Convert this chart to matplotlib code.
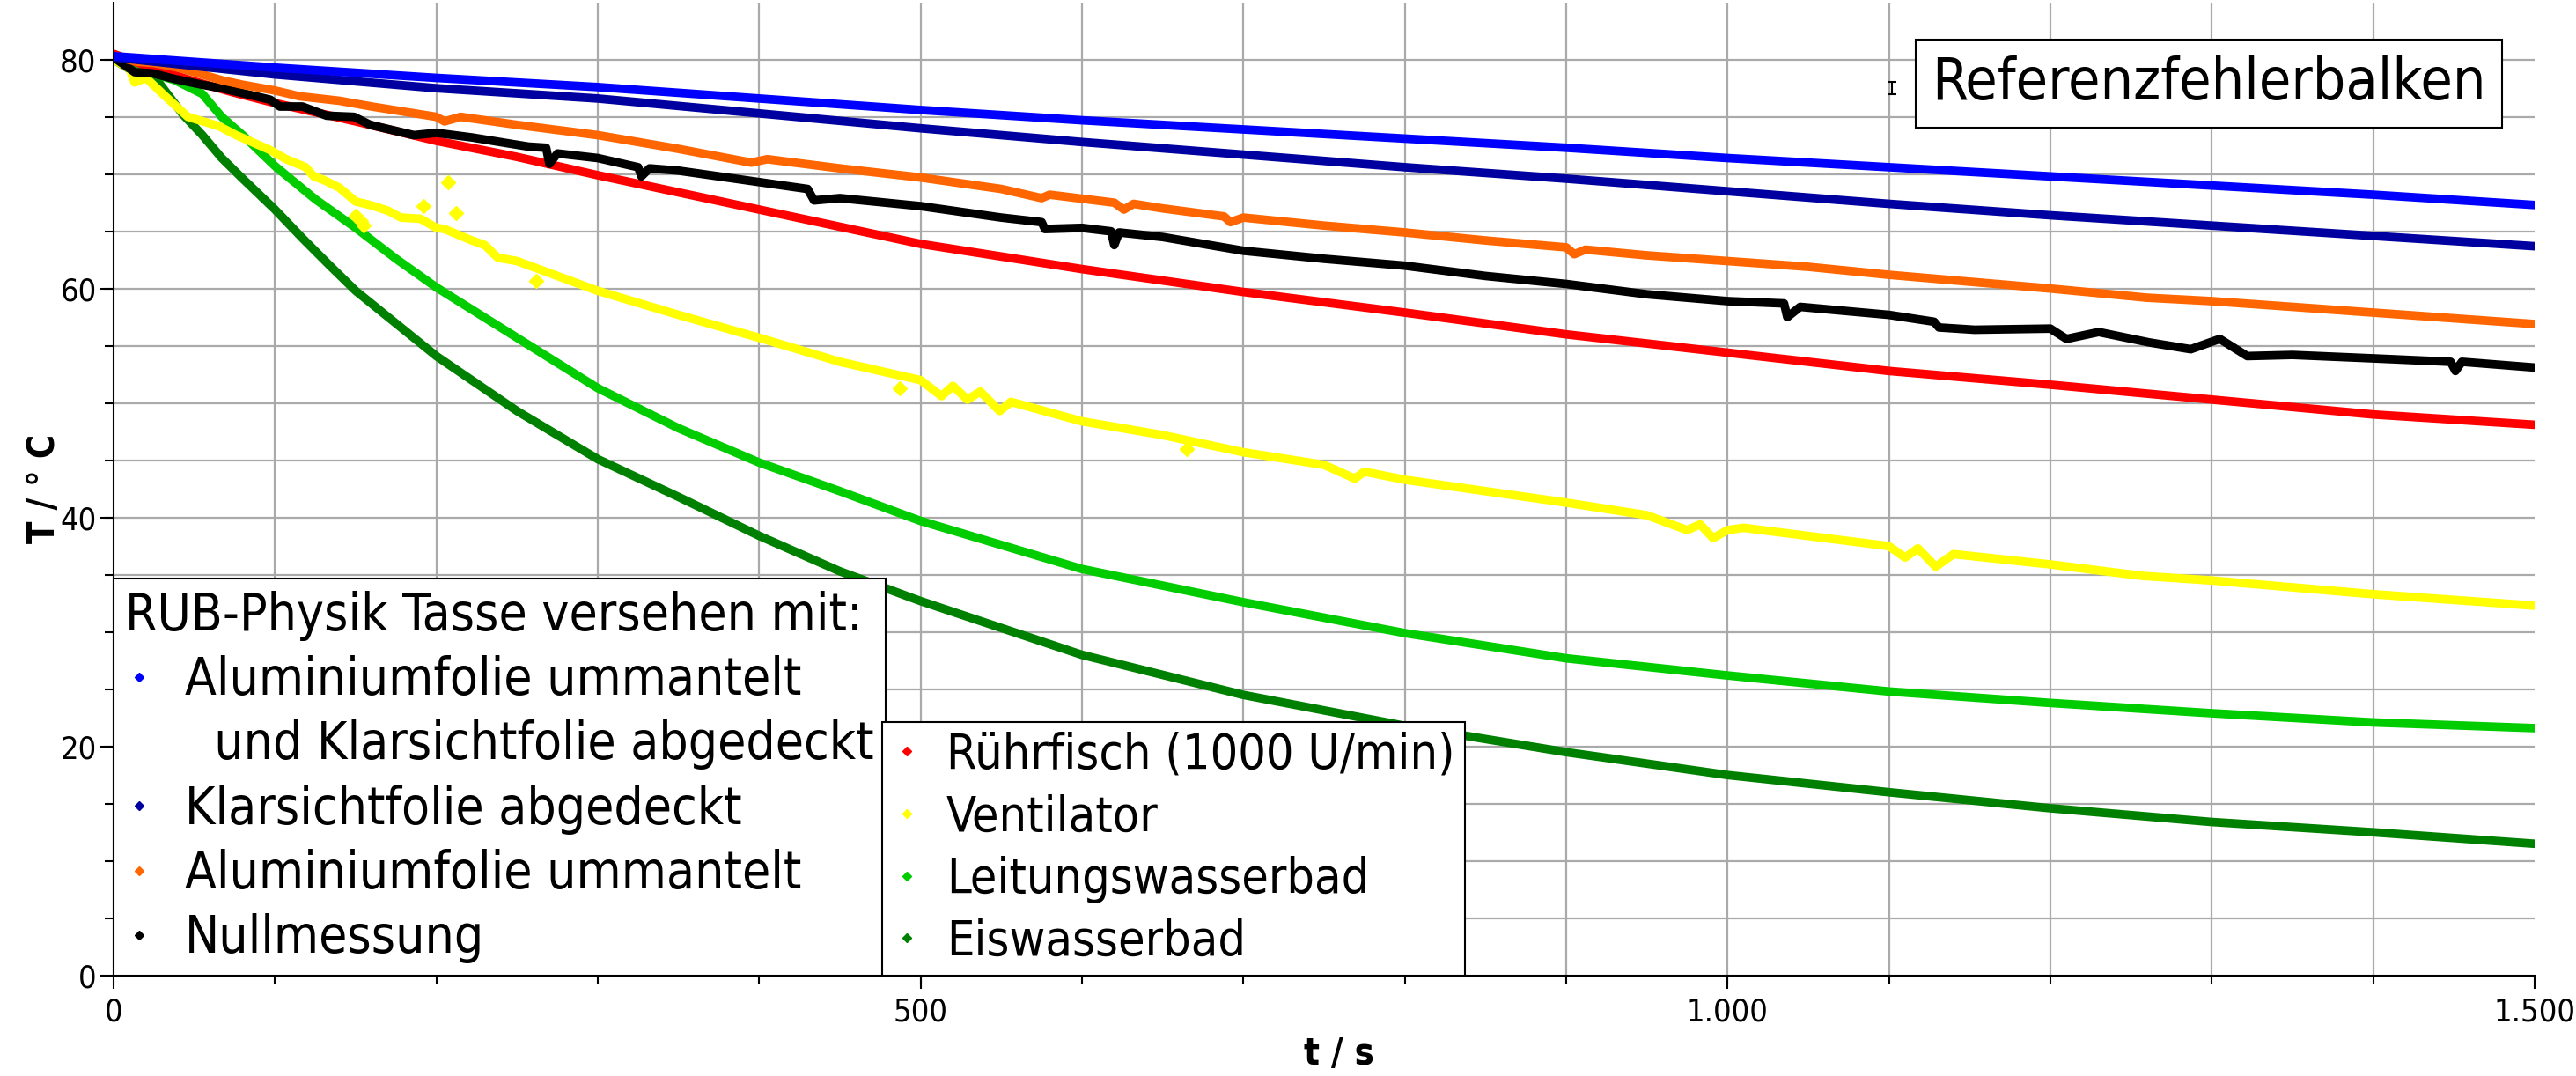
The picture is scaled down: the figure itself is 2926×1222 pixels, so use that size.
import matplotlib
matplotlib.use('Agg')
import matplotlib.pyplot as plt
from matplotlib.lines import Line2D

plt.rcParams['font.family'] = ['DejaVu Sans']
plt.rcParams['font.stretch'] = 'condensed'

t_alu_klar = [0, 100, 200, 300, 400, 500, 600, 700, 800, 900, 1000, 1100, 1200, 1300, 1400, 1500]
T_alu_klar = [80.3, 79.3, 78.4, 77.6, 76.6, 75.6, 74.7, 73.9, 73.1, 72.3, 71.4, 70.6, 69.8, 69.0, 68.2, 67.3]

t_klar = [0, 100, 200, 300, 400, 500, 600, 700, 800, 900, 1000, 1100, 1200, 1300, 1400, 1500]
T_klar = [80.2, 78.7, 77.5, 76.6, 75.3, 74.0, 72.8, 71.7, 70.6, 69.6, 68.5, 67.4, 66.4, 65.5, 64.6, 63.7]

t_alu = [0, 15, 25, 40, 55, 67, 80, 100, 115, 140, 160, 200, 205, 215, 250, 300, 350, 395, 405,
         450, 500, 550, 575, 580, 620, 626, 632, 650, 688, 692, 700, 750, 800, 850, 900, 905, 912,
         950, 1000, 1050, 1100, 1200, 1260, 1300, 1400, 1500]
T_alu = [80.3, 79.8, 79.7, 79.3, 78.7, 78.2, 77.8, 77.3, 76.8, 76.4, 75.9, 75.0, 74.6, 75.0, 74.3,
         73.4, 72.2, 71.0, 71.3, 70.5, 69.7, 68.7, 67.9, 68.2, 67.5, 66.9, 67.4, 67.0, 66.3, 65.8,
         66.2, 65.5, 64.9, 64.2, 63.6, 63.0, 63.4, 62.9, 62.4, 61.9, 61.2, 60.0, 59.2, 58.9, 57.9, 56.9]

t_null = [0, 13, 24, 38, 55, 67, 82, 97, 103, 117, 132, 149, 159, 186, 200, 222, 257, 268, 270,
          275, 300, 325, 327, 332, 350, 400, 430, 434, 450, 500, 550, 575, 577, 600, 618, 620, 623,
          650, 700, 750, 800, 850, 900, 950, 1000, 1035, 1037, 1045, 1100, 1128, 1131, 1153, 1200,
          1210, 1230, 1261, 1287, 1305, 1322, 1350, 1400, 1448, 1451, 1455, 1500]
T_null = [80.2, 78.9, 78.8, 78.3, 77.8, 77.5, 77.0, 76.5, 75.9, 75.9, 75.1, 75.0, 74.3, 73.4, 73.6,
          73.2, 72.4, 72.3, 70.9, 71.8, 71.4, 70.6, 69.8, 70.5, 70.3, 69.3, 68.7, 67.7, 67.9, 67.2,
          66.2, 65.8, 65.2, 65.3, 65.0, 63.8, 64.9, 64.5, 63.3, 62.6, 62.0, 61.1, 60.4, 59.5, 58.9,
          58.7, 57.5, 58.4, 57.7, 57.1, 56.6, 56.4, 56.5, 55.6, 56.2, 55.3, 54.7, 55.6, 54.1, 54.2,
          53.9, 53.6, 52.8, 53.6, 53.1]

t_ruehr = [0, 25, 50, 75, 100, 150, 200, 250, 300, 350, 400, 450, 500, 600, 700, 800, 900, 1000,
           1100, 1200, 1300, 1400, 1500]
T_ruehr = [80.5, 79.2, 78.1, 77.1, 76.2, 74.6, 72.9, 71.5, 69.9, 68.4, 66.9, 65.4, 63.9, 61.7, 59.7,
           57.9, 56.0, 54.4, 52.8, 51.6, 50.3, 49.0, 48.1]

t_vent = [0, 10, 13, 20, 32, 46, 65, 76, 97, 107, 119, 124, 130, 140, 150, 159, 170, 178, 190, 200,
          205, 222, 230, 238, 250, 300, 350, 400, 450, 500, 513, 520, 529, 537, 549, 556, 600, 650,
          700, 750, 769, 775, 800, 850, 900, 950, 975, 983, 991, 1000, 1010, 1100, 1110, 1118, 1129,
          1140, 1200, 1257, 1300, 1400, 1500]
T_vent = [80.0, 79.2, 78.0, 78.4, 76.8, 75.0, 74.2, 73.4, 72.1, 71.3, 70.6, 69.8, 69.5, 68.8, 67.6,
          67.3, 66.8, 66.2, 66.1, 65.3, 65.2, 64.2, 63.8, 62.7, 62.4, 59.8, 57.7, 55.7, 53.6, 52.0,
          50.6, 51.5, 50.3, 51.0, 49.3, 50.1, 48.4, 47.2, 45.7, 44.6, 43.4, 44.0, 43.3, 42.3, 41.3,
          40.2, 38.9, 39.4, 38.2, 38.9, 39.1, 37.5, 36.5, 37.3, 35.7, 36.8, 35.9, 34.9, 34.5, 33.3, 32.3]
t_vent_out = [150, 153, 155, 192, 207, 212, 262, 487, 665]
T_vent_out = [66.4, 65.9, 65.5, 67.2, 69.3, 66.6, 60.7, 51.3, 46.0]

t_leit = [0, 24, 38, 55, 67, 80, 100, 125, 150, 175, 200, 250, 300, 350, 400, 450, 500, 600, 700,
          800, 900, 1000, 1100, 1200, 1300, 1400, 1500]
T_leit = [80.0, 78.8, 78.2, 77.0, 75.0, 73.4, 70.7, 67.8, 65.3, 62.6, 60.1, 55.7, 51.3, 47.8, 44.8,
          42.3, 39.7, 35.5, 32.6, 29.9, 27.7, 26.2, 24.8, 23.8, 22.9, 22.1, 21.6]

t_eis = [0, 19, 28, 43, 55, 67, 80, 100, 117, 134, 150, 200, 250, 300, 350, 400, 450, 500, 600, 700,
         800, 900, 1000, 1100, 1200, 1300, 1400, 1500]
T_eis = [80.0, 78.4, 78.0, 75.2, 73.4, 71.4, 69.6, 66.9, 64.4, 62.0, 59.8, 54.1, 49.3, 45.1, 41.8,
         38.4, 35.3, 32.7, 28.0, 24.5, 21.8, 19.5, 17.5, 16.0, 14.6, 13.4, 12.5, 11.5]

ref_t, ref_T, ref_err = 1102, 77.5, 0.55

x_ticks = [0, 500, 1000, 1500]
x_tick_labels = ['0', '500', '1.000', '1.500']
y_ticks = [0, 20, 40, 60, 80]

c_alu_klar = '#0000ff'
c_klar = '#0000a0'
c_alu = '#ff6600'
c_null = '#000000'
c_ruehr = '#ff0000'
c_vent = '#ffff00'
c_leit = '#00cc00'
c_eis = '#008000'

fig = plt.figure(figsize=(29.26, 12.22), dpi=100)
ax = fig.add_axes([0.0441, 0.0935, 0.9398, 0.9043])

lw = 7
kw = dict(linewidth=lw, solid_joinstyle='round', solid_capstyle='round', zorder=3)
ax.plot(t_eis, T_eis, color=c_eis, **kw)
ax.plot(t_leit, T_leit, color=c_leit, **kw)
ax.plot(t_vent, T_vent, color=c_vent, **kw)
ax.plot(t_vent_out, T_vent_out, 'D', color=c_vent, markersize=8, zorder=3)
ax.plot(t_ruehr, T_ruehr, color=c_ruehr, **kw)
ax.plot(t_null, T_null, color=c_null, **kw)
ax.plot(t_alu, T_alu, color=c_alu, **kw)
ax.plot(t_klar, T_klar, color=c_klar, **kw)
ax.plot(t_alu_klar, T_alu_klar, color=c_alu_klar, **kw)

ax.errorbar([ref_t], [ref_T], yerr=[ref_err], fmt='none', ecolor='k', elinewidth=1.5,
            capsize=3.5, capthick=1.5, zorder=4)
ax.text(0.8655, 0.9165, 'Referenzfehlerbalken', transform=ax.transAxes, fontsize=47.5,
        ha='center', va='center', zorder=6,
        bbox=dict(boxstyle='square,pad=0.27', facecolor='white', edgecolor='black', linewidth=1.5))

ax.set_xlim(0, 1500)
ax.set_ylim(0, 85)
ax.set_xticks(x_ticks)
ax.set_xticklabels(x_tick_labels)
ax.set_yticks(y_ticks)
ax.set_xticks(range(100, 1500, 100), minor=True)
ax.set_yticks(range(5, 81, 5), minor=True)
ax.xaxis.remove_overlapping_locs = False
ax.yaxis.remove_overlapping_locs = False
ax.grid(which='minor', color='#aaaaaa', linewidth=1.6, zorder=0)
ax.grid(which='major', visible=False)
ax.set_axisbelow(True)

for s in ['top', 'right']:
    ax.spines[s].set_visible(False)
for s in ['left', 'bottom']:
    ax.spines[s].set_linewidth(1.5)
ax.tick_params(which='major', direction='out', length=11, width=1.5, labelsize=26, pad=3)
ax.tick_params(which='minor', direction='out', length=7, width=1.5)
ax.tick_params(axis='x', which='major', pad=7)

ax.set_xlabel('t / s', fontsize=30, fontweight='bold')
ax.set_ylabel('T / ° C', fontsize=30, fontweight='bold')
ax.xaxis.set_label_coords(0.506, -0.062)
ax.yaxis.set_label_coords(-0.021, 0.5)


def handle(c):
    return Line2D([], [], linestyle='none', marker='D', markersize=5, color=c)


h1 = [handle(c_alu_klar), Line2D([], [], linestyle='none'), handle(c_klar), handle(c_alu), handle(c_null)]
l1 = ['Aluminiumfolie ummantelt', '  und Klarsichtfolie abgedeckt', 'Klarsichtfolie abgedeckt',
      'Aluminiumfolie ummantelt', 'Nullmessung']
leg1 = ax.legend(h1, l1, title='RUB-Physik Tasse versehen mit:', loc='lower left',
                 bbox_to_anchor=(0, 0), borderaxespad=0, fontsize=42, title_fontsize=42,
                 alignment='left', fancybox=False, framealpha=1, edgecolor='black',
                 borderpad=0.23, handlelength=0.53, handletextpad=0.63, labelspacing=0.28)
leg1.get_frame().set_linewidth(1.5)
leg1.set_zorder(7)
ax.add_artist(leg1)

h2 = [handle(c_ruehr), handle(c_vent), handle(c_leit), handle(c_eis)]
l2 = ['Rührfisch (1000 U/min)', 'Ventilator', 'Leitungswasserbad', 'Eiswasserbad']
leg2 = ax.legend(h2, l2, loc='lower left', bbox_to_anchor=(0.3175, 0), borderaxespad=0,
                 fontsize=40, fancybox=False, framealpha=1, edgecolor='black',
                 borderpad=0.2, handlelength=0.61, handletextpad=0.5, labelspacing=0.3)
leg2.get_frame().set_linewidth(1.5)
leg2.set_zorder(7)

fig.savefig('out.png', dpi=100)
